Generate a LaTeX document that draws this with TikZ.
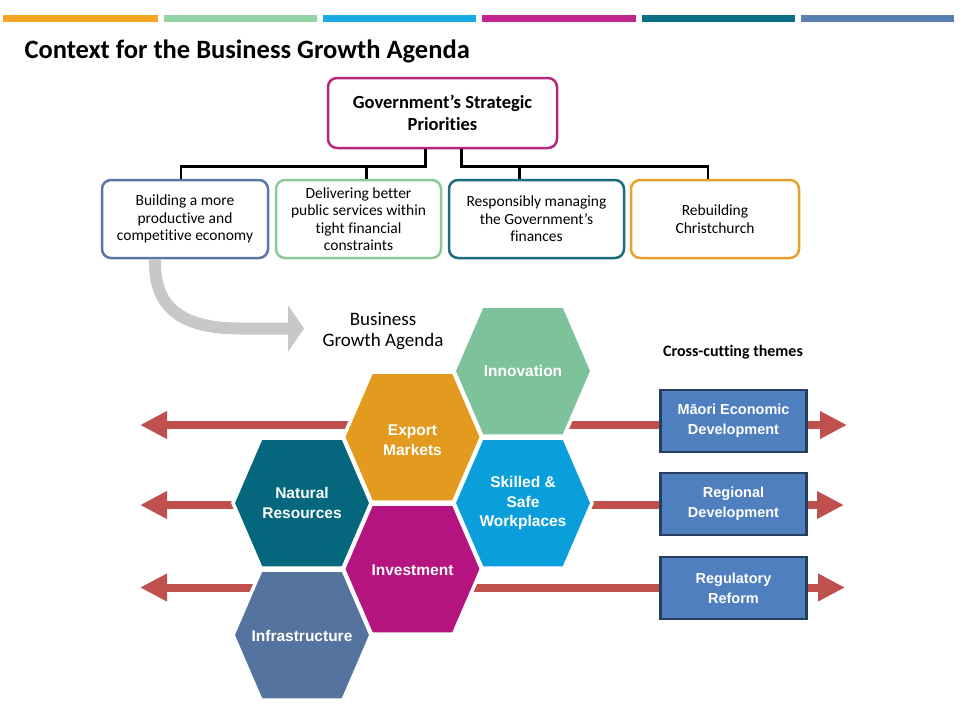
\documentclass[tikz,border=0pt]{standalone}
\usepackage{fontspec}
\setmainfont{Carlito}[Ligatures=NoCommon]
\newfontfamily\arialfont{Liberation Sans}
\usetikzlibrary{arrows.meta}

\definecolor{barorange}{HTML}{F5A623}
\definecolor{bargreen}{HTML}{92D3A5}
\definecolor{barblue}{HTML}{1AABE5}
\definecolor{barpink}{HTML}{C2238C}
\definecolor{barteal}{HTML}{0A6E85}
\definecolor{barslate}{HTML}{5A80B2}
\definecolor{govpink}{HTML}{B8277F}
\definecolor{boxslate}{HTML}{5A76A6}
\definecolor{boxgreen}{HTML}{8CC99A}
\definecolor{boxteal}{HTML}{1E6B7E}
\definecolor{boxorange}{HTML}{E8A02E}
\definecolor{hexgreen}{HTML}{7DC29A}
\definecolor{hexorange}{HTML}{E39B1F}
\definecolor{hexteal}{HTML}{05677E}
\definecolor{hexblue}{HTML}{0A9FDA}
\definecolor{hexpink}{HTML}{B51480}
\definecolor{hexslate}{HTML}{55739F}
\definecolor{themered}{HTML}{C0504D}
\definecolor{themefill}{HTML}{4F7FBF}
\definecolor{themeline}{HTML}{243F60}
\definecolor{growgray}{HTML}{C8C8C8}

\begin{document}
\begin{tikzpicture}[x=1pt,y=-1pt,
    prio/.style={draw,line width=2.5pt,rounded corners=9pt,fill=white,
        minimum width=166pt,minimum height=78pt,align=center,
        font=\fontsize{15.5}{17.5}\selectfont},
    tree/.style={line width=2.5pt},
    hex/.style={draw=white,line width=3.5pt},
    hextext/.style={text=white,align=center,
        font=\arialfont\bfseries\fontsize{15.5}{19.5}\selectfont},
    theme/.style={draw=themeline,fill=themefill,line width=2.5pt,
        minimum width=146pt,minimum height=62pt,align=center,text=white,
        font=\arialfont\bfseries\fontsize{14.5}{20}\selectfont},
    crossarrow/.style={draw=themered,line width=8pt,
        {Triangle[length=27pt,width=26pt]}-{Triangle[length=27pt,width=26pt]}},
    growth/.style={draw=growgray,line width=12pt,-{Triangle[length=16pt,width=46pt]}}]
    \useasboundingbox (0,0) rectangle (960,720);

    % colour bars along the top
    \fill[barorange] (3,15) rectangle (158,22);
    \fill[bargreen] (164,15) rectangle (317,22);
    \fill[barblue] (323,15) rectangle (476,22);
    \fill[barpink] (482,15) rectangle (636,22);
    \fill[barteal] (642,15) rectangle (795,22);
    \fill[barslate] (801,15) rectangle (954,22);

    \node[anchor=base west,font=\bfseries\fontsize{26.5}{30}\selectfont] (title) at (21,58)
        {Context for the Business Growth Agenda};

    % priorities
    \node[prio,draw=govpink,minimum width=229pt,minimum height=70pt,
        font=\bfseries\fontsize{18.5}{22}\selectfont] (gov) at (442.5,113)
        {Government’s Strategic\\Priorities};
    \node[prio,draw=boxslate] (b1) at (185,219)
        {Building a more\\productive and\\competitive economy};
    \node[prio,draw=boxgreen,minimum width=165pt] (b2) at (358.5,219)
        {Delivering better\\public services within\\tight financial\\constraints};
    \node[prio,draw=boxteal,minimum width=175pt] (b3) at (536.5,219)
        {Responsibly managing\\the Government’s\\finances};
    \node[prio,draw=boxorange,minimum width=168pt] (b4) at (715,219)
        {Rebuilding\\Christchurch};

    \draw[tree] ([xshift=-17pt]gov.south) -- ++(0,17) -| ([xshift=-4pt]b1.north);
    \draw[tree] ([xshift=19pt]gov.south) -- ++(0,17) -| ([xshift=-7pt]b4.north);
    \draw[tree] ([xshift=-17pt]gov.south) ++(0,17) -| ([xshift=8pt]b2.north);
    \draw[tree] ([xshift=19pt]gov.south) ++(0,17) -| ([xshift=-17pt]b3.north);

    % arrow down to the agenda
    \coordinate (gtip) at (304,328.5);
    \draw[growth] ([xshift=-30pt]b1.south) -- ++(0,4)
        .. controls (155,310) and (185,328.5) .. (240,328.5) -- (gtip);
    \node[align=center,font=\fontsize{19}{21}\selectfont] (bga) at (383,331)
        {Business\\Growth Agenda};
    \node[font=\bfseries\fontsize{16}{18}\selectfont] (cct) at (733,352)
        {Cross-cutting themes};

    % cross-cutting arrows, behind everything
    \coordinate (l1) at (140,425); \coordinate (r1) at (847,425);
    \coordinate (l2) at (140,505); \coordinate (r2) at (844,505);
    \coordinate (l3) at (140,587.5); \coordinate (r3) at (845,587.5);
    \draw[crossarrow] (l1) -- (r1);
    \draw[crossarrow] (l2) -- (r2);
    \draw[crossarrow] (l3) -- (r3);

    % hexagons
    \filldraw[hex,fill=hexgreen] (523,371) +(-69,0) -- +(-41,-65) -- +(41,-65)
        -- +(69,0) -- +(41,65) -- +(-41,65) -- cycle;
    \filldraw[hex,fill=hexorange] (412.5,437) +(-69,0) -- +(-41,-65) -- +(41,-65)
        -- +(69,0) -- +(41,65) -- +(-41,65) -- cycle;
    \filldraw[hex,fill=hexteal] (302,503) +(-69,0) -- +(-41,-65) -- +(41,-65)
        -- +(69,0) -- +(41,65) -- +(-41,65) -- cycle;
    \filldraw[hex,fill=hexblue] (523,503) +(-69,0) -- +(-41,-65) -- +(41,-65)
        -- +(69,0) -- +(41,65) -- +(-41,65) -- cycle;
    \filldraw[hex,fill=hexpink] (412.5,569) +(-69,0) -- +(-41,-65) -- +(41,-65)
        -- +(69,0) -- +(41,65) -- +(-41,65) -- cycle;
    \filldraw[hex,fill=hexslate] (302,635) +(-69,0) -- +(-41,-65) -- +(41,-65)
        -- +(69,0) -- +(41,65) -- +(-41,65) -- cycle;
    \node[hextext] (innov) at (523,371) {Innovation};
    \node[hextext] (export) at (412.5,440) {Export\\Markets};
    \node[hextext] (natres) at (302,503) {Natural\\Resources};
    \node[hextext] (skilled) at (523,503) {Skilled \&\\Safe\\Workplaces};
    \node[hextext] (invest) at (412.5,570) {Investment};
    \node[hextext] (infra) at (302,636) {Infrastructure};

    % themes
    \node[theme] (maori) at (733.5,421) {Māori Economic\\Development};
    \node[theme] (region) at (733.5,504) {Regional\\Development};
    \node[theme] (reg) at (733.5,588) {Regulatory\\Reform};

\end{tikzpicture}
\end{document}
